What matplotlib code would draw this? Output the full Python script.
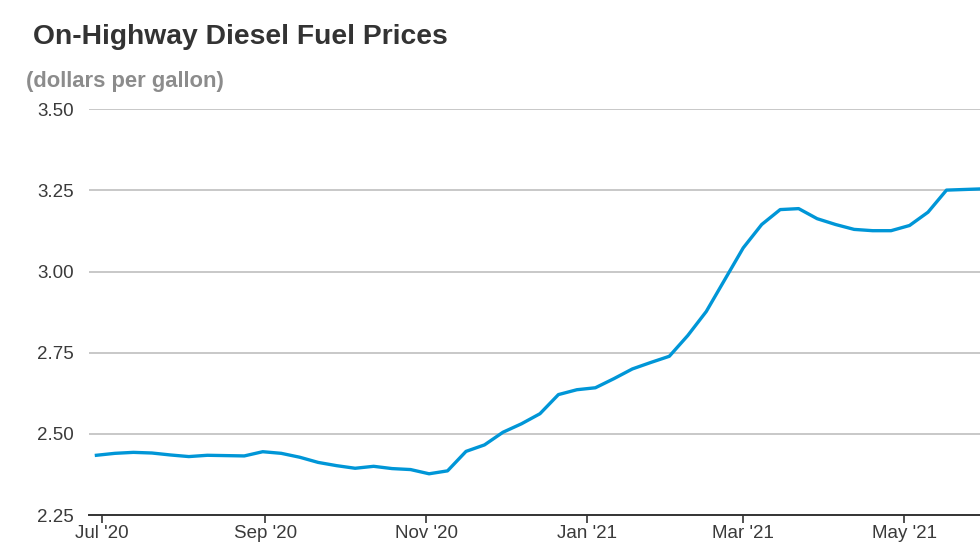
import matplotlib.pyplot as plt
import matplotlib.dates as mdates
import pandas as pd

plt.rcParams["font.family"] = ["Liberation Sans", "DejaVu Sans"]

# weekly retail on-highway diesel, $/gal
week_dates = [
    "2020-06-29", "2020-07-06", "2020-07-13", "2020-07-20", "2020-07-27",
    "2020-08-03", "2020-08-10", "2020-08-17", "2020-08-24", "2020-08-31",
    "2020-09-07", "2020-09-14", "2020-09-21", "2020-09-28", "2020-10-05",
    "2020-10-12", "2020-10-19", "2020-10-26", "2020-11-02", "2020-11-09",
    "2020-11-16", "2020-11-23", "2020-11-30", "2020-12-07", "2020-12-14",
    "2020-12-21", "2020-12-28", "2021-01-04", "2021-01-11", "2021-01-18",
    "2021-01-25", "2021-02-01", "2021-02-08", "2021-02-15", "2021-02-22",
    "2021-03-01", "2021-03-08", "2021-03-15", "2021-03-22", "2021-03-29",
    "2021-04-05", "2021-04-12", "2021-04-19", "2021-04-26", "2021-05-03",
    "2021-05-10", "2021-05-17", "2021-05-24", "2021-05-31",
]
diesel_price = [
    2.434, 2.440, 2.443, 2.441, 2.435,
    2.430, 2.434, 2.433, 2.432, 2.445,
    2.440, 2.428, 2.412, 2.402, 2.394,
    2.400, 2.393, 2.390, 2.377, 2.386,
    2.446, 2.466, 2.505, 2.531, 2.562,
    2.621, 2.636, 2.642, 2.670, 2.700,
    2.720, 2.739, 2.803, 2.877, 2.975,
    3.073, 3.145, 3.191, 3.194, 3.163,
    3.145, 3.130, 3.126, 3.126, 3.142,
    3.183, 3.251, 3.253, 3.255,
]
y_ticks = [2.25, 2.50, 2.75, 3.00, 3.25, 3.50]

dates = pd.to_datetime(week_dates)

W, H = 980, 552
PX_PER_DAY = 2.64
x_left = mdates.date2num(pd.Timestamp("2020-07-01")) - 12.7 / PX_PER_DAY
x_right = mdates.date2num(pd.Timestamp("2021-06-14"))

fig = plt.figure(figsize=(W / 100, H / 100), dpi=100)
ax = fig.add_axes([89 / W, 37 / H, (x_right - x_left) * PX_PER_DAY / W, (515 - 109.3) / H])

ax.plot(dates, diesel_price, color="#0096d7", linewidth=2.4, solid_joinstyle="round", zorder=3)

ax.set_xlim(x_left, x_right)
ax.set_ylim(2.25, 3.50)
ax.set_yticks(y_ticks)
ax.yaxis.set_major_formatter(plt.FuncFormatter(lambda v, p: f"{v:.2f}"))
ax.grid(axis="y", color="#c8c8c8", linewidth=1.4)
ax.set_axisbelow(True)

ax.xaxis.set_major_locator(mdates.MonthLocator(bymonth=[1, 3, 5, 7, 9, 11]))
ax.xaxis.set_major_formatter(mdates.DateFormatter("%b '%y"))

for side in ["top", "right", "left"]:
    ax.spines[side].set_visible(False)
ax.spines["bottom"].set_color("#333333")
ax.spines["bottom"].set_linewidth(1.4)
ax.spines["bottom"].set_zorder(4)

ax.tick_params(axis="y", length=0, pad=11, labelsize=13.5, labelcolor="#3a3a3a")
ax.tick_params(axis="x", length=6, width=1.2, color="#333333", pad=1.5,
               labelsize=13.5, labelcolor="#3a3a3a")

fig.text(33 / W, 1 - 44 / H, "On-Highway Diesel Fuel Prices", fontsize=20.3,
         fontweight="bold", color="#333333", ha="left", va="baseline")
fig.text(26 / W, 1 - 87 / H, "(dollars per gallon)", fontsize=15.8,
         fontweight="bold", color="#8c8c8c", ha="left", va="baseline")

fig.savefig("out.png", dpi=100)
